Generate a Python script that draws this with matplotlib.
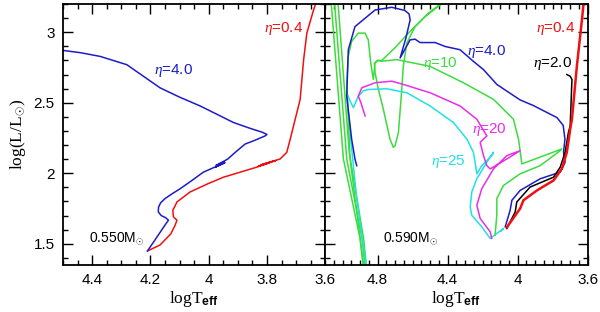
import matplotlib
matplotlib.use("Agg")
import matplotlib.pyplot as plt
from matplotlib.ticker import MultipleLocator, FuncFormatter

plt.rcParams["mathtext.fontset"] = "custom"
plt.rcParams["mathtext.rm"] = "Liberation Serif"
plt.rcParams["mathtext.it"] = "Liberation Serif:italic"
plt.rcParams["mathtext.bf"] = "Liberation Sans:bold"
plt.rcParams["font.family"] = ["Liberation Sans", "DejaVu Sans"]

BLUE = "#1c1cc8"
RED = "#f01010"
GREEN = "#3ddc3d"
MAGENTA = "#e82ee8"
CYAN = "#22e0e6"

# ---- left panel: 0.550 Msun ----
blue_l_x = [4.210, 4.180, 4.150, 4.138, 4.148, 4.163, 4.173, 4.172, 4.165, 4.150, 4.125,
            4.098, 4.060, 4.018, 3.944, 3.975, 3.948, 3.975, 3.935, 3.915, 3.875, 3.846,
            3.806, 3.800, 3.815, 3.860, 3.915, 4.029, 4.100, 4.167, 4.224, 4.281, 4.373,
            4.440, 4.499, 4.560]
blue_l_y = [1.449, 1.540, 1.632, 1.667, 1.685, 1.700, 1.726, 1.760, 1.790, 1.820, 1.855,
            1.890, 1.945, 2.008, 2.075, 2.045, 2.080, 2.055, 2.100, 2.137, 2.207, 2.230,
            2.265, 2.275, 2.290, 2.320, 2.360, 2.477, 2.540, 2.606, 2.688, 2.770, 2.829,
            2.855, 2.871, 2.874]
red_l_x = [4.210, 4.167, 4.130, 4.115, 4.109, 4.121, 4.123, 4.115, 4.109, 4.064, 4.000,
           3.949, 3.835, 3.790, 3.830, 3.770, 3.820, 3.755, 3.732, 3.720, 3.703, 3.686,
           3.674, 3.663, 3.640, 3.625]
red_l_y = [1.449, 1.491, 1.570, 1.632, 1.667, 1.691, 1.737, 1.770, 1.796, 1.867, 1.928,
           1.972, 2.043, 2.075, 2.050, 2.090, 2.060, 2.101, 2.148, 2.242, 2.383, 2.524,
           2.806, 2.994, 3.158, 3.250]

# ---- right panel: 0.590 Msun ----
red_r_x = [4.062, 4.053, 3.986, 3.967, 3.890, 3.795, 3.748, 3.719, 3.700, 3.690, 3.662, 3.633, 3.620]
red_r_y = [1.615, 1.632, 1.749, 1.808, 1.878, 1.949, 2.031, 2.149, 2.313, 2.383, 2.758, 3.087, 3.250]
black_r_x = [4.062, 4.014, 4.005, 3.929, 3.795, 3.757, 3.729, 3.710, 3.700, 3.690, 3.700, 3.719]
black_r_y = [1.608, 1.726, 1.796, 1.902, 1.972, 2.043, 2.149, 2.290, 2.336, 2.665, 2.688, 2.700]
blue_r_x = [4.071, 4.043, 4.033, 3.986, 3.871, 3.757, 3.729, 3.738, 3.730, 3.740, 3.776, 3.910,
            3.986, 4.119, 4.195, 4.253, 4.329, 4.414, 4.471, 4.557, 4.586, 4.614, 4.671, 4.640,
            4.614, 4.620, 4.645, 4.719, 4.814, 4.929, 4.967, 4.976, 4.948, 4.929, 4.919]
blue_r_y = [1.620, 1.737, 1.808, 1.878, 1.961, 2.008, 2.078, 2.149, 2.242, 2.340, 2.395, 2.480,
            2.520, 2.630, 2.735, 2.794, 2.876, 2.899, 2.927, 2.927, 2.951, 2.946, 2.818, 2.950,
            3.087, 3.130, 3.155, 3.177, 3.158, 3.040, 2.876, 2.547, 2.242, 2.101, 2.054]
green_a_x = [4.129, 4.119, 4.119, 4.081, 3.986, 3.871, 3.757, 3.748, 3.976, 3.995, 4.005,
             4.024, 4.138, 4.310, 4.500, 4.690, 4.776, 4.800, 4.815, 4.824, 4.835, 4.843,
             4.853, 4.871, 4.910, 4.948, 4.967, 4.976, 4.957, 4.883, 4.870]
green_a_y = [1.561, 1.702, 1.820, 1.913, 1.996, 2.054, 2.160, 2.172, 2.066, 2.242, 2.289,
             2.383, 2.524, 2.642, 2.758, 2.806, 2.794, 2.800, 2.780, 2.665, 2.750, 2.829,
             2.946, 2.994, 2.994, 2.935, 2.829, 2.642, 2.101, 1.376, 1.300]
green_b_x = [4.410, 4.510, 4.586, 4.633, 4.653, 4.666, 4.681, 4.700, 4.710, 4.729, 4.767,
             4.795, 4.814, 4.818, 4.800, 4.776, 4.700, 4.624, 4.529, 4.443, 4.400]
green_b_y = [3.230, 3.135, 3.040, 2.923, 2.758, 2.524, 2.289, 2.195, 2.184, 2.242, 2.454,
             2.594, 2.712, 2.780, 2.800, 2.800, 2.890, 2.994, 3.111, 3.193, 3.230]
green_c_x = [5.066, 4.995, 4.900, 4.878]
green_c_y = [3.230, 2.101, 1.538, 1.300]
green_d_x = [5.047, 4.976, 4.889, 4.868]
green_d_y = [3.230, 2.101, 1.538, 1.300]
green_e_x = [5.027, 4.962, 4.880, 4.860]
green_e_y = [3.230, 2.150, 1.538, 1.300]
magenta_r_x = [4.871, 4.895, 4.910, 4.890, 4.814, 4.719, 4.653, 4.500, 4.329, 4.233, 4.176,
               4.214, 4.195, 4.176, 4.157, 4.062, 3.986, 4.062, 4.138, 4.205, 4.233, 4.214,
               4.157, 4.148]
magenta_r_y = [2.406, 2.500, 2.547, 2.606, 2.642, 2.653, 2.630, 2.571, 2.477, 2.383, 2.265,
               2.219, 2.125, 2.054, 2.031, 2.101, 2.160, 2.125, 2.031, 1.890, 1.773, 1.679,
               1.585, 1.538]
cyan_r_x = [4.860, 4.919, 4.957, 4.976, 4.960, 4.938, 4.910, 4.880, 4.853, 4.747, 4.633,
            4.500, 4.367, 4.290, 4.253, 4.243, 4.233, 4.205, 4.148, 4.138, 4.176, 4.233,
            4.262, 4.271, 4.262, 4.205, 4.157, 4.119, 4.081, 4.095]
cyan_r_y = [1.300, 1.820, 2.289, 2.571, 2.520, 2.465, 2.547, 2.585, 2.594, 2.599, 2.571,
            2.477, 2.360, 2.242, 2.149, 2.078, 1.996, 2.054, 2.125, 2.149, 2.078, 1.961,
            1.867, 1.761, 1.702, 1.620, 1.538, 1.573, 1.608, 1.590]


def tick_fmt(v, pos):
    return "%g" % round(v, 2)


fig = plt.figure(figsize=(6, 3.12), dpi=100)
ax_l = fig.add_axes([0.105, 0.151, 0.437, 0.836])
ax_r = fig.add_axes([0.5417, 0.151, 0.4378, 0.836])

ax_l.plot(red_l_x, red_l_y, color=RED, lw=1.1)
ax_l.plot(blue_l_x, blue_l_y, color=BLUE, lw=1.1)

ax_r.plot(green_c_x, green_c_y, color=GREEN, lw=1.1)
ax_r.plot(green_d_x, green_d_y, color=GREEN, lw=1.1)
ax_r.plot(green_e_x, green_e_y, color=GREEN, lw=1.1)
ax_r.plot(green_b_x, green_b_y, color=GREEN, lw=1.1)
ax_r.plot(cyan_r_x, cyan_r_y, color=CYAN, lw=1.1)
ax_r.plot(green_a_x, green_a_y, color=GREEN, lw=1.1)
ax_r.plot(magenta_r_x, magenta_r_y, color=MAGENTA, lw=1.1)
ax_r.plot(blue_r_x, blue_r_y, color=BLUE, lw=1.1)
ax_r.plot(black_r_x, black_r_y, color="black", lw=1.1)
ax_r.plot(red_r_x, red_r_y, color=RED, lw=1.8)

for ax, xmin, major in [(ax_l, 4.5, 0.2), (ax_r, 5.1, 0.4)]:
    ax.set_xlim(xmin, 3.6)
    ax.set_ylim(1.35, 3.2)
    ax.xaxis.set_major_locator(MultipleLocator(major))
    ax.xaxis.set_minor_locator(MultipleLocator(0.05))
    ax.yaxis.set_major_locator(MultipleLocator(0.5))
    ax.yaxis.set_minor_locator(MultipleLocator(0.1))
    ax.xaxis.set_major_formatter(FuncFormatter(tick_fmt))
    ax.yaxis.set_major_formatter(FuncFormatter(tick_fmt))
    ax.tick_params(which="both", direction="in", top=True, right=True, width=1.0)
    ax.tick_params(which="major", length=7, labelsize=11, pad=6)
    ax.tick_params(which="minor", length=3.5)
    for s in ax.spines.values():
        s.set_linewidth(1.3)
    ax.set_xlabel(r"logT$_{\mathbf{eff}}$", fontsize=12.5, family="Liberation Serif", labelpad=1)

ax_r.tick_params(labelleft=False)
ax_l.set_ylabel(r"log(L/L$_{\odot}$)", fontsize=12.5, family="Liberation Serif", labelpad=4)

tsize = 11
msize = 10
ax_l.text(4.12, 2.73, r"$\eta$=4.0", color=BLUE, fontsize=tsize, ha="center", va="center")
ax_l.text(3.744, 3.03, r"$\eta$=0.4", color=RED, fontsize=tsize, ha="center", va="center")
ax_l.text(4.314, 1.533, r"0.550M$_{\odot}$", color="black", fontsize=msize, ha="center", va="center")

ax_r.text(3.786, 3.03, r"$\eta$=0.4", color=RED, fontsize=tsize, ha="center", va="center")
ax_r.text(4.18, 2.86, r"$\eta$=4.0", color=BLUE, fontsize=tsize, ha="center", va="center")
ax_r.text(3.80, 2.78, r"$\eta$=2.0", color="black", fontsize=tsize, ha="center", va="center")
ax_r.text(4.443, 2.775, r"$\eta$=10", color=GREEN, fontsize=tsize, ha="center", va="center")
ax_r.text(4.163, 2.31, r"$\eta$=20", color=MAGENTA, fontsize=tsize, ha="center", va="center")
ax_r.text(4.397, 2.08, r"$\eta$=25", color=CYAN, fontsize=tsize, ha="center", va="center")
ax_r.text(4.61, 1.533, r"0.590M$_{\odot}$", color="black", fontsize=msize, ha="center", va="center")

fig.savefig("out.png", dpi=100)
